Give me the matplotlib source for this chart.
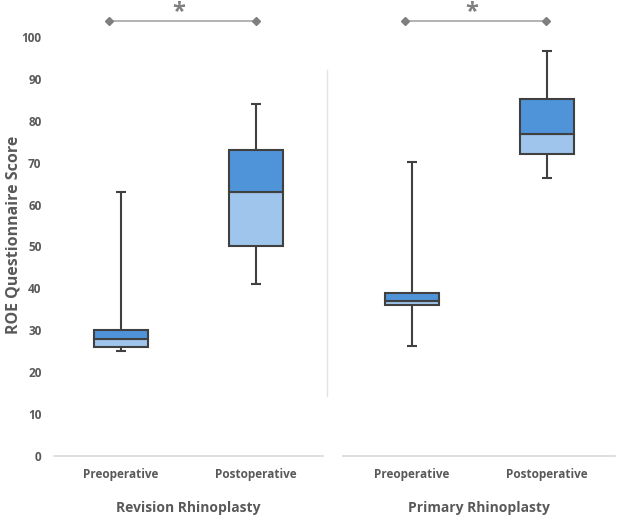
import matplotlib
matplotlib.use("Agg")
import matplotlib.pyplot as plt
from matplotlib.lines import Line2D

# ---- data ----
groups = ["Revision Rhinoplasty", "Primary Rhinoplasty"]
categories = ["Preoperative", "Postoperative", "Preoperative", "Postoperative"]
positions = [1.0, 2.0, 3.153, 4.153]
whisker_low = [25, 41, 26.3, 66.3]
q1 = [26, 50, 36.0, 72.1]
median = [28, 63, 37.1, 76.9]
q3 = [30, 73, 38.9, 85.3]
whisker_high = [63, 84, 70.1, 96.6]
yticks = [0, 10, 20, 30, 40, 50, 60, 70, 80, 90, 100]

dark_blue = "#4F93D8"
light_blue = "#9FC5EC"
edge = "#404040"
text_col = "#595959"

plt.rcParams['font.family'] = ['Open Sans', 'DejaVu Sans']

fig = plt.figure(figsize=(6.17, 5.16), dpi=100)
ax = fig.add_axes([0.0875, 0.1163, 0.9093, 0.812])
xmin, xmax = 0.504, 4.659
ax.set_xlim(xmin, xmax)
ax.set_ylim(0, 100)

bw = 0.4
capw = 0.05
for i, x in enumerate(positions):
    ax.vlines(x, q3[i], whisker_high[i], color=edge, lw=1.5, zorder=2)
    ax.vlines(x, whisker_low[i], q1[i], color=edge, lw=1.5, zorder=2)
    ax.hlines([whisker_low[i], whisker_high[i]], x - capw / 2 - 0.012, x + capw / 2 + 0.012,
              color=edge, lw=1.5, zorder=2)
    ax.bar(x, median[i] - q1[i], bottom=q1[i], width=bw, color=light_blue,
           edgecolor=edge, lw=1.5, zorder=3)
    ax.bar(x, q3[i] - median[i], bottom=median[i], width=bw, color=dark_blue,
           edgecolor=edge, lw=1.5, zorder=3)

for s in ax.spines.values():
    s.set_visible(False)

# baseline segments and divider
ax.plot([0.504, 2.496], [0, 0], color="#D9D9D9", lw=1.2, clip_on=False, zorder=1)
ax.plot([2.644, 4.659], [0, 0], color="#D9D9D9", lw=1.2, clip_on=False, zorder=1)
ax.plot([2.524, 2.524], [14.3, 92.1], color="#E3E3E3", lw=1.0, zorder=1)

ax.set_yticks(yticks)
ax.set_yticklabels([str(v) for v in yticks], fontsize=8.5, fontweight='bold', color=text_col)
ax.tick_params(axis='y', length=0, pad=9)
ax.set_xticks(positions)
ax.set_xticklabels(categories, fontsize=8.5, fontweight='bold', color=text_col)
ax.tick_params(axis='x', length=0, pad=9)

ax.set_ylabel("ROE Questionnaire Score", fontsize=11.5, fontweight='bold', color=text_col)
ax.yaxis.set_label_coords(-0.058, 0.527)

# group labels
for gx, g in zip([(positions[0] + positions[1]) / 2, (positions[2] + positions[3]) / 2], groups):
    ax.text(gx, -12.4, g, ha='center', va='center', fontsize=10, fontweight='bold',
            color=text_col, clip_on=False)

# significance brackets
brackets = [(0.911, 2.0), (3.104, 4.148)]
for (a, b) in brackets:
    ax.add_line(Line2D([a, b], [103.8, 103.8], color="#A6A6A6", lw=1.2, clip_on=False))
    ax.plot([a, b], [103.8, 103.8], ls='none', marker='D', ms=4.5, color="#7F7F7F", clip_on=False)
    ax.text((a + b) / 2 - 0.03, 104.6, "*", ha='center', va='baseline', fontsize=17,
            fontweight='bold', color="#7F7F7F", clip_on=False)

fig.savefig("out.png", dpi=100)
